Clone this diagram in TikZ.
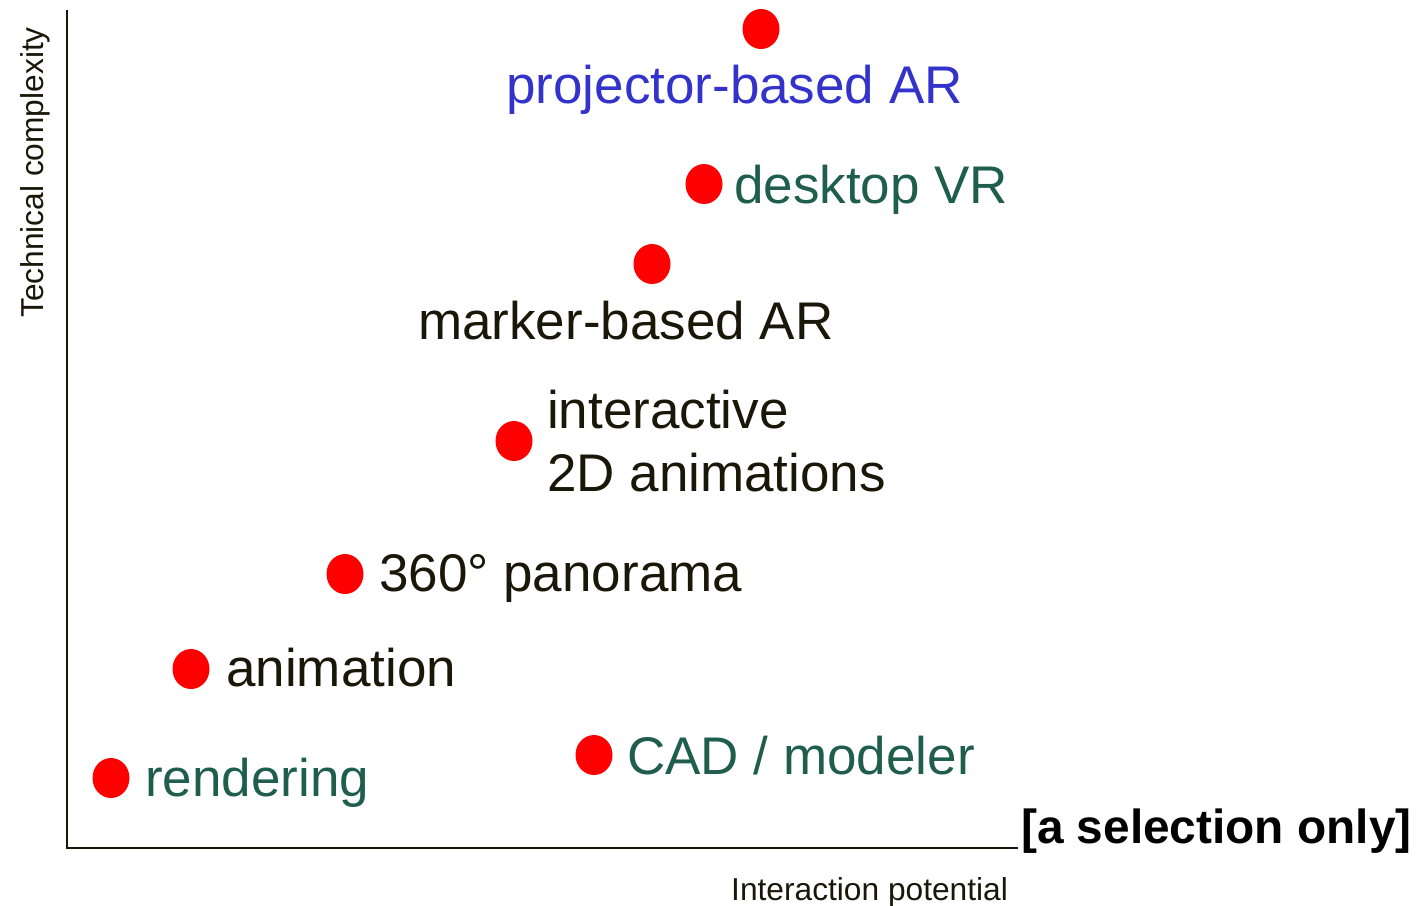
\documentclass[tikz,border=0pt]{standalone}
\usepackage{fontspec}
\setmainfont{Liberation Sans}
\usetikzlibrary{shapes.geometric}
\definecolor{ink}{HTML}{1A1708}
\definecolor{leaf}{HTML}{1E5E4A}
\definecolor{azure}{HTML}{3333CC}
\definecolor{dotred}{HTML}{FF0000}
\tikzset{
  dot/.style={ellipse, fill=dotred, draw=none, minimum width=37pt, minimum height=40pt, inner sep=0pt},
  lbl/.style={anchor=base west, inner sep=0pt, font=\fontsize{53}{63}\selectfont},
  axislbl/.style={inner sep=0pt, text=ink, font=\fontsize{31.7}{36}\selectfont},
  axisline/.style={draw=ink, line width=2pt},
}
\begin{document}
\begin{tikzpicture}[x=1pt, y=-1pt]
\useasboundingbox (0,0) rectangle (1423,905);

% axes
\coordinate (top) at (67,10);
\coordinate (origin) at (67,848);
\coordinate (xend) at (1018,848);
\draw[axisline] (top) -- (origin) -- (xend);

\node[axislbl, anchor=base west, rotate=90] (ylab) at (43,318) {Technical complexity};
\node[axislbl, anchor=base west] (xlab) at (731,900) {Interaction potential};
\node[anchor=base west, inner sep=0pt, text=black, font=\fontsize{47.8}{56}\selectfont\bfseries] (note) at (1021,843) {[a selection only]};

% data points
\node[dot] (projector) at (761,29) {};
\node[dot] (desktop) at (704,184) {};
\node[dot] (marker) at (652,264) {};
\node[dot] (inter) at (514,441) {};
\node[dot] (pano) at (345,574) {};
\node[dot] (anim) at (191,669) {};
\node[dot] (render) at (111,778) {};
\node[dot] (cad) at (594,755) {};

% labels
\node[lbl, text=azure] (projectorlbl) at (506,103) {projector-based AR};
\node[lbl, text=leaf] (desktoplbl) at (734,203) {desktop VR};
\node[lbl, text=ink] (markerlbl) at (418,339) {marker-based AR};
\node[lbl, text=ink] (interlblA) at (547,428) {interactive};
\node[lbl, text=ink] (interlblB) at (547,491) {2D animations};
\node[lbl, text=ink] (panolbl) at (379,591) {360° panorama};
\node[lbl, text=ink] (animlbl) at (226,686) {animation};
\node[lbl, text=leaf] (renderlbl) at (145,796) {rendering};
\node[lbl, text=leaf] (cadlbl) at (627,774) {CAD / modeler};
\end{tikzpicture}
\end{document}
